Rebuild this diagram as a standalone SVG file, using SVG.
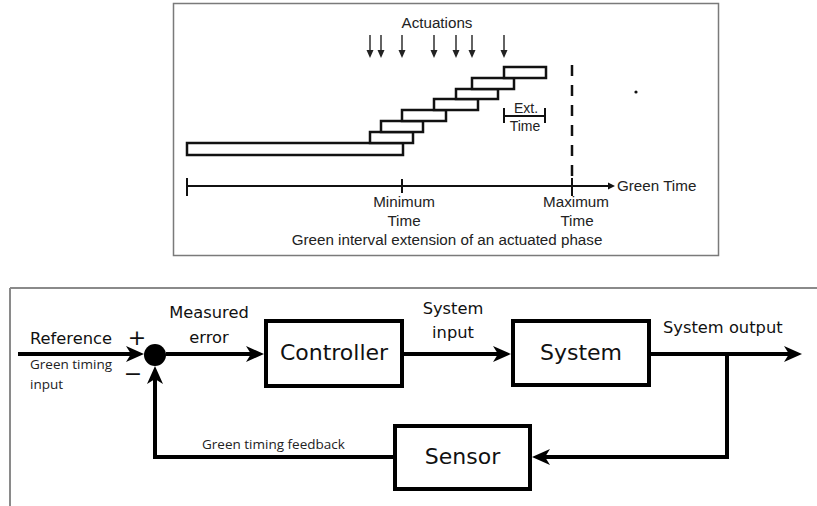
<svg xmlns="http://www.w3.org/2000/svg" width="817" height="506" viewBox="0 0 817 506">
<style>
.frame{fill:none;stroke:#7a7a7a;stroke-width:1.5}
.bar{fill:#fff;stroke:#111;stroke-width:2.5}
.ax{fill:none;stroke:#111;stroke-width:2}
.ta{font-family:"Liberation Sans",Arial,sans-serif;font-size:15.2px;fill:#222;text-anchor:middle}
.box{fill:#fff;stroke:#000;stroke-width:4}
.lbl{font-family:"DejaVu Sans",sans-serif;font-size:22px;fill:#111;text-anchor:middle}
.sl{font-family:"DejaVu Sans",sans-serif;font-size:16.3px;fill:#111}
.gl{font-family:"Open Sans",sans-serif;font-size:13.5px;fill:#222}
.conn{fill:none;stroke:#000;stroke-width:4}
.act{stroke:#222;stroke-width:1.4}
</style>
<defs>
<marker id="arr" viewBox="0 0 18 16" refX="10" refY="8" markerWidth="18" markerHeight="16" markerUnits="userSpaceOnUse" orient="auto">
<path d="M0,0 L18,8 L0,16 L5,8 Z" fill="#000"/>
</marker>
</defs>

<g id="top-diagram">
<rect class="frame" x="173.5" y="3.5" width="545" height="252"/>
<text class="ta" x="437" y="28">Actuations</text>
<g id="actuations">
<line class="act" x1="370" y1="35" x2="370" y2="51"/><path d="M366.5,50 L373.5,50 L370,58 Z" fill="#222"/>
<line class="act" x1="381" y1="35" x2="381" y2="51"/><path d="M377.5,50 L384.5,50 L381,58 Z" fill="#222"/>
<line class="act" x1="402" y1="35" x2="402" y2="51"/><path d="M398.5,50 L405.5,50 L402,58 Z" fill="#222"/>
<line class="act" x1="434" y1="35" x2="434" y2="51"/><path d="M430.5,50 L437.5,50 L434,58 Z" fill="#222"/>
<line class="act" x1="456" y1="35" x2="456" y2="51"/><path d="M452.5,50 L459.5,50 L456,58 Z" fill="#222"/>
<line class="act" x1="472" y1="35" x2="472" y2="51"/><path d="M468.5,50 L475.5,50 L472,58 Z" fill="#222"/>
<line class="act" x1="504" y1="35" x2="504" y2="51"/><path d="M500.5,50 L507.5,50 L504,58 Z" fill="#222"/>
</g>
<g id="bars">
<rect class="bar" x="187" y="143" width="216" height="12"/>
<rect class="bar" x="370" y="132" width="43" height="11"/>
<rect class="bar" x="381" y="121" width="42" height="11"/>
<rect class="bar" x="402" y="110" width="44" height="11"/>
<rect class="bar" x="434" y="99" width="44" height="11"/>
<rect class="bar" x="456" y="89" width="42" height="10"/>
<rect class="bar" x="472" y="78" width="42" height="11"/>
<rect class="bar" x="504" y="67" width="42" height="11"/>
</g>
<g id="ext">
<path class="ax" d="M504,116 H545 M504,108 V123 M545,108 V123"/>
<text class="ta" x="526" y="113" style="font-size:14px">Ext.</text>
<text class="ta" x="525" y="131" style="font-size:14px">Time</text>
</g>
<line x1="572" y1="65" x2="572" y2="178" stroke="#111" stroke-width="2.5" stroke-dasharray="11,9"/>
<g id="axis">
<path class="ax" d="M187,186 H609 M187,178 V196 M402,179 V193 M572,178 V196"/>
<path d="M608,182.5 L615,186 L608,189.5 Z" fill="#111"/>
<text class="ta" x="617" y="191" style="text-anchor:start">Green Time</text>
</g>
<text class="ta" x="404" y="207">Minimum</text>
<text class="ta" x="404" y="226">Time</text>
<text class="ta" x="576" y="207">Maximum</text>
<text class="ta" x="577" y="226">Time</text>
<text class="ta" x="447" y="245">Green interval extension of an actuated phase</text>
<circle cx="636" cy="92" r="1.6" fill="#111"/>
</g>

<g id="bottom-frame">
<path d="M10,288 H817 M10,288 V506" fill="none" stroke="#8a8a8a" stroke-width="2"/>
</g>

<g id="connectors">
<path class="conn" d="M18,354 H136" marker-end="url(#arr)"/>
<path class="conn" d="M166,354 H256" marker-end="url(#arr)"/>
<path class="conn" d="M402,354 H503" marker-end="url(#arr)"/>
<path class="conn" d="M649,354 H794" marker-end="url(#arr)"/>
<path class="conn" d="M727,354 V457 H540" marker-end="url(#arr)"/>
<path class="conn" d="M395,457 H155 V374" marker-end="url(#arr)"/>
</g>

<g id="sum">
<circle cx="155" cy="355" r="11" fill="#000"/>
<text class="sl" x="137" y="345" style="text-anchor:middle;font-size:22px">+</text>
<text class="sl" x="133" y="381" style="text-anchor:middle;font-size:22px">−</text>
</g>

<g id="controller">
<rect class="box" x="266" y="321" width="136" height="65"/>
<text class="lbl" x="334" y="360">Controller</text>
</g>
<g id="system">
<rect class="box" x="513" y="321" width="136" height="64"/>
<text class="lbl" x="581" y="360">System</text>
</g>
<g id="sensor">
<rect class="box" x="395" y="426" width="135" height="63"/>
<text class="lbl" x="462.5" y="464">Sensor</text>
</g>

<g id="labels">
<text class="sl" x="30" y="344">Reference</text>
<text class="gl" x="30" y="369">Green timing</text>
<text class="gl" x="30" y="388.5">input</text>
<text class="sl" x="209" y="318" style="text-anchor:middle">Measured</text>
<text class="sl" x="209" y="343" style="text-anchor:middle">error</text>
<text class="sl" x="453" y="314" style="text-anchor:middle">System</text>
<text class="sl" x="453" y="338" style="text-anchor:middle">input</text>
<text class="sl" x="663" y="333">System output</text>
<text class="gl" x="202" y="449">Green timing feedback</text>
</g>
</svg>
